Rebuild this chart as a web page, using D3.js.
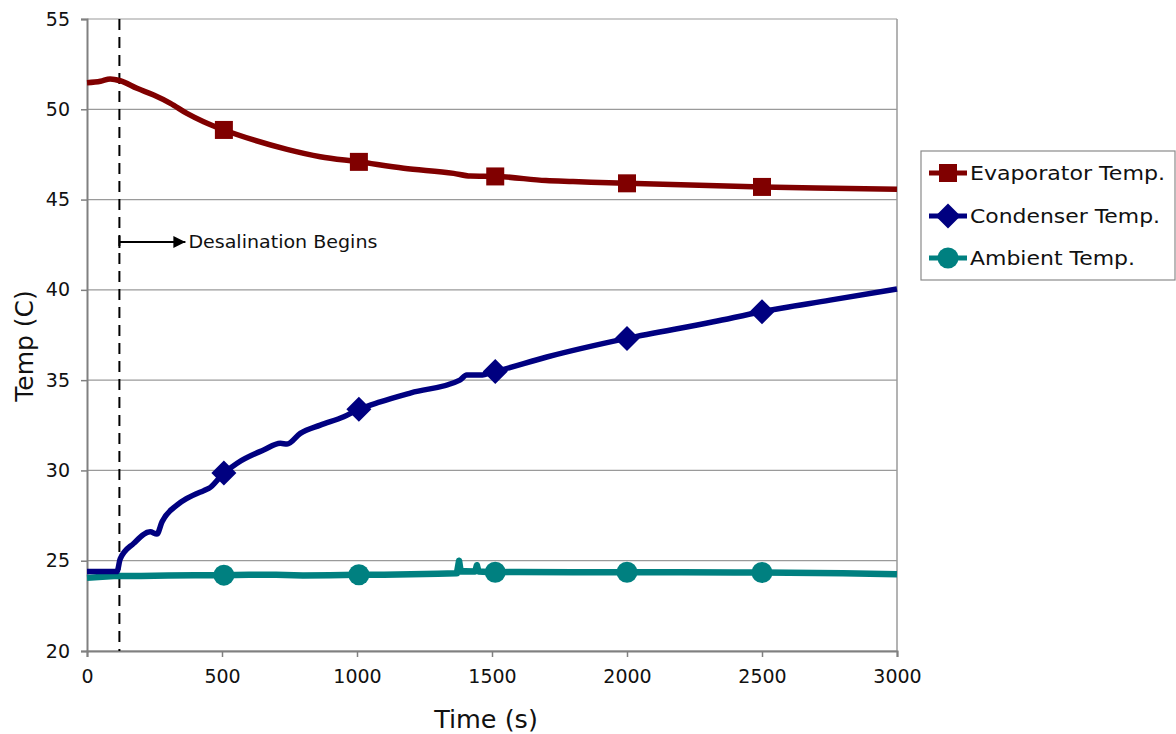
<!DOCTYPE html>
<html>
<head>
<meta charset="utf-8">
<script src="https://cdn.jsdelivr.net/npm/d3@7/dist/d3.min.js"></script>
<style>
  body { margin: 0; background: #fff; }
  svg { display: block; font-family: "DejaVu Sans", Verdana, sans-serif; }
</style>
</head>
<body>
<svg id="chart" width="1176" height="734"></svg>
<script>
// ---- Data ----
const xTicks = [0, 500, 1000, 1500, 2000, 2500, 3000];
const yTicks = [20, 25, 30, 35, 40, 45, 50, 55];

const evapTime = [0, 50, 86, 123, 185, 247, 309, 370, 432, 508, 617, 741, 864, 1006, 1173, 1358, 1420, 1518, 1700, 1800, 2000, 2200, 2500, 2700, 3000];
const evapTemp = [51.47, 51.55, 51.68, 51.58, 51.16, 50.79, 50.33, 49.77, 49.31, 48.85, 48.30, 47.78, 47.37, 47.09, 46.73, 46.45, 46.30, 46.28, 46.05, 46.0, 45.9, 45.82, 45.7, 45.64, 45.57];

const condTime = [0, 111, 123, 173, 234, 259, 278, 333, 370, 432, 451, 506, 556, 654, 716, 741, 790, 864, 951, 1006, 1086, 1200, 1381, 1406, 1456, 1517, 1703, 1999, 2320, 2499, 2752, 3000];
const condTemp = [24.4, 24.4, 25.1, 25.96, 26.6, 26.48, 27.16, 28.08, 28.45, 28.88, 29.0, 29.84, 30.4, 31.13, 31.5, 31.46, 32.05, 32.51, 32.97, 33.38, 33.8, 34.3, 35.0, 35.28, 35.28, 35.5, 36.28, 37.31, 38.23, 38.79, 39.43, 40.05];

const ambTime = [0, 100, 200, 300, 400, 500, 600, 700, 800, 900, 1000, 1100, 1200, 1300, 1370, 1378, 1384, 1400, 1438, 1444, 1450, 1500, 1600, 1800, 2000, 2200, 2400, 2600, 2800, 3000];
const ambTemp = [24.05, 24.15, 24.15, 24.18, 24.2, 24.2, 24.22, 24.22, 24.18, 24.2, 24.22, 24.22, 24.25, 24.28, 24.3, 25.0, 24.4, 24.42, 24.4, 24.75, 24.4, 24.36, 24.38, 24.36, 24.36, 24.36, 24.35, 24.34, 24.3, 24.25];

const markerTime = [507, 1007, 1512, 2000, 2500];

const seriesNames = ["Evaporator Temp.", "Condenser Temp.", "Ambient Temp."];
const seriesColors = ["#800000", "#000080", "#008080"];
const seriesShapes = ["square", "diamond", "circle"];

const eventTime = 120;
const eventLabel = "Desalination Begins";
const xTitle = "Time (s)";
const yTitle = "Temp (C)";

// ---- Layout ----
const svg = d3.select("#chart");
const plot = { left: 87, right: 897, top: 19, bottom: 651 };

const x = d3.scaleLinear().domain([0, 3000]).range([plot.left, plot.right]);
const y = d3.scaleLinear().domain([20, 55]).range([plot.bottom, plot.top]);

// gridlines
svg.append("g").selectAll("line").data(yTicks).join("line")
  .attr("x1", plot.left).attr("x2", plot.right)
  .attr("y1", d => y(d)).attr("y2", d => y(d))
  .attr("stroke", "#9a9a9a").attr("stroke-width", 1.2);

// right border
svg.append("line")
  .attr("x1", plot.right).attr("x2", plot.right)
  .attr("y1", plot.top).attr("y2", plot.bottom)
  .attr("stroke", "#9a9a9a").attr("stroke-width", 1.5);

// axes
const xAxis = d3.axisBottom(x).tickValues(xTicks).tickSize(6).tickPadding(13).tickFormat(d3.format("d"));
const yAxis = d3.axisLeft(y).tickValues(yTicks).tickSize(6).tickPadding(11).tickFormat(d3.format("d"));

const gx = svg.append("g").attr("transform", `translate(0,${plot.bottom})`).call(xAxis);
const gy = svg.append("g").attr("transform", `translate(${plot.left},0)`).call(yAxis);
[gx, gy].forEach(g => {
  g.select(".domain").attr("stroke", "#808080").attr("stroke-width", 2);
  g.selectAll(".tick line").attr("stroke", "#808080").attr("stroke-width", 1.5);
  g.selectAll(".tick text").attr("fill", "#111").style("font-size", "19px")
   .style("font-family", "'DejaVu Sans', Verdana, sans-serif");
});

// axis titles
svg.append("text").attr("x", 486).attr("y", 728)
  .attr("text-anchor", "middle").style("font-size", "25.5px").attr("fill", "#111").text(xTitle);
svg.append("text").attr("transform", `translate(33,346) rotate(-90)`)
  .attr("text-anchor", "middle").style("font-size", "25px").attr("fill", "#111").text(yTitle);

// event dashed line
svg.append("line")
  .attr("x1", x(eventTime)).attr("x2", x(eventTime))
  .attr("y1", plot.top).attr("y2", plot.bottom)
  .attr("stroke", "#000").attr("stroke-width", 2).attr("stroke-dasharray", "11,7");

// arrow
svg.append("defs").append("marker")
  .attr("id", "arrow").attr("viewBox", "0 0 10 10").attr("refX", 10).attr("refY", 5)
  .attr("markerWidth", 19).attr("markerHeight", 12).attr("markerUnits", "userSpaceOnUse")
  .attr("orient", "auto")
  .append("path").attr("d", "M0,0 L10,5 L0,10 Z").attr("fill", "#000");
const arrowY = 242;
svg.append("line")
  .attr("x1", x(eventTime)).attr("x2", x(eventTime) + 66)
  .attr("y1", arrowY).attr("y2", arrowY)
  .attr("stroke", "#000").attr("stroke-width", 2).attr("marker-end", "url(#arrow)");
svg.append("line")
  .attr("x1", x(eventTime)).attr("x2", x(eventTime))
  .attr("y1", arrowY - 6).attr("y2", arrowY + 6)
  .attr("stroke", "#000").attr("stroke-width", 2);
svg.append("text").attr("x", x(eventTime) + 69).attr("y", arrowY)
  .attr("dy", "0.35em").style("font-size", "17.5px").attr("fill", "#111")
  .attr("textLength", 189).attr("lengthAdjust", "spacingAndGlyphs").text(eventLabel);

// series
const seriesData = [
  { t: evapTime, v: evapTemp },
  { t: condTime, v: condTemp },
  { t: ambTime, v: ambTemp }
];

const line = d3.line().x(d => x(d[0])).y(d => y(d[1])).curve(d3.curveMonotoneX);
const interp = (ts, vs, t) => {
  const i = d3.bisectRight(ts, t);
  if (i <= 0) return vs[0];
  if (i >= ts.length) return vs[vs.length - 1];
  const f = (t - ts[i - 1]) / (ts[i] - ts[i - 1]);
  return vs[i - 1] + f * (vs[i] - vs[i - 1]);
};

function drawMarker(g, shape, cx, cy, color) {
  if (shape === "square") {
    g.append("rect").attr("x", cx - 9).attr("y", cy - 9)
      .attr("width", 18).attr("height", 18).attr("fill", color);
  } else if (shape === "diamond") {
    const r = 12.5;
    g.append("path").attr("d", `M${cx},${cy - r} L${cx + r},${cy} L${cx},${cy + r} L${cx - r},${cy} Z`).attr("fill", color);
  } else {
    g.append("circle").attr("cx", cx).attr("cy", cy).attr("r", 10.5).attr("fill", color);
  }
}

// draw ambient first (bottom), then condenser, then evaporator
[2, 1, 0].forEach(k => {
  const s = seriesData[k];
  const pts = s.t.map((t, i) => [t, s.v[i]]);
  const g = svg.append("g");
  g.append("path").datum(pts).attr("d", k === 2 ? d3.line().x(d => x(d[0])).y(d => y(d[1]))(pts) : line(pts))
    .attr("fill", "none").attr("stroke", seriesColors[k])
    .attr("stroke-width", k === 2 ? 6.5 : 5.5).attr("stroke-linejoin", "round");
  markerTime.forEach(t => {
    const v = k === 2 && t === 1512 ? 24.36 : interp(s.t, s.v, t);
    drawMarker(g, seriesShapes[k], x(t), y(v), seriesColors[k]);
  });
});

// legend
const leg = svg.append("g");
leg.append("rect").attr("x", 921).attr("y", 151).attr("width", 254).attr("height", 129)
  .attr("fill", "#fff").attr("stroke", "#8a8a8a").attr("stroke-width", 1.2);
const legY = [173, 216, 258];
const legLen = [195, 190, 165];
seriesNames.forEach((name, k) => {
  leg.append("line").attr("x1", 929).attr("x2", 967).attr("y1", legY[k]).attr("y2", legY[k])
    .attr("stroke", seriesColors[k]).attr("stroke-width", 5);
  drawMarker(leg, seriesShapes[k], 948, legY[k], seriesColors[k]);
  leg.append("text").attr("x", 970).attr("y", legY[k]).attr("dy", "0.36em")
    .style("font-size", "20px").attr("fill", "#111")
    .attr("textLength", legLen[k]).attr("lengthAdjust", "spacingAndGlyphs").text(name);
});
</script>
</body>
</html>
